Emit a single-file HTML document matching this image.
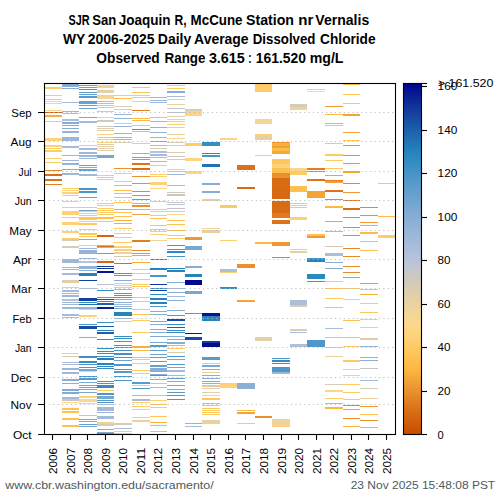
<!DOCTYPE html>
<html><head><meta charset="utf-8">
<style>
html,body{margin:0;padding:0;background:#fff;}
body{width:500px;height:500px;overflow:hidden;}
svg{display:block;font-family:"Liberation Sans",sans-serif;}
</style></head><body>
<svg width="500" height="500" viewBox="0 0 500 500">
<rect width="500" height="500" fill="#fff"/>
<g font-weight="bold" font-size="14.4" fill="#000">
<text x="68.50" y="24.80" textLength="21.10" lengthAdjust="spacingAndGlyphs">SJR</text>
<text x="92.30" y="24.80" textLength="24.10" lengthAdjust="spacingAndGlyphs">San</text>
<text x="118.80" y="24.80" textLength="51.80" lengthAdjust="spacingAndGlyphs">Joaquin</text>
<text x="174.60" y="24.80" textLength="12.10" lengthAdjust="spacingAndGlyphs">R,</text>
<text x="190.60" y="24.80" textLength="51.90" lengthAdjust="spacingAndGlyphs">McCune</text>
<text x="246.00" y="24.80" textLength="47.90" lengthAdjust="spacingAndGlyphs">Station</text>
<text x="298.20" y="24.80" textLength="15.10" lengthAdjust="spacingAndGlyphs">nr</text>
<text x="315.30" y="24.80" textLength="53.90" lengthAdjust="spacingAndGlyphs">Vernalis</text>
<text x="63.00" y="43.90" textLength="22.30" lengthAdjust="spacingAndGlyphs">WY</text>
<text x="87.80" y="43.90" textLength="66.60" lengthAdjust="spacingAndGlyphs">2006-2025</text>
<text x="157.80" y="43.90" textLength="33.40" lengthAdjust="spacingAndGlyphs">Daily</text>
<text x="194.10" y="43.90" textLength="54.50" lengthAdjust="spacingAndGlyphs">Average</text>
<text x="252.80" y="43.90" textLength="62.60" lengthAdjust="spacingAndGlyphs">Dissolved</text>
<text x="320.10" y="43.90" textLength="55.50" lengthAdjust="spacingAndGlyphs">Chloride</text>
<text x="96.30" y="62.50" textLength="63.40" lengthAdjust="spacingAndGlyphs">Observed</text>
<text x="164.60" y="62.50" textLength="40.90" lengthAdjust="spacingAndGlyphs">Range</text>
<text x="208.90" y="62.50" textLength="35.90" lengthAdjust="spacingAndGlyphs">3.615</text>
<text x="248.30" y="62.50" textLength="3.30" lengthAdjust="spacingAndGlyphs">:</text>
<text x="255.80" y="62.50" textLength="50.10" lengthAdjust="spacingAndGlyphs">161.520</text>
<text x="309.70" y="62.50" textLength="33.80" lengthAdjust="spacingAndGlyphs">mg/L</text>
</g>
<g shape-rendering="crispEdges">
<rect x="45" y="87" width="17" height="2" fill="#feca62"/>
<rect x="45" y="95" width="17" height="1" fill="#fecd6a"/>
<rect x="45" y="99" width="17" height="1" fill="#fecd6a"/>
<rect x="45" y="101" width="17" height="1" fill="#fdd584"/>
<rect x="45" y="103" width="17" height="1" fill="#f4d596"/>
<rect x="45" y="110" width="17" height="1" fill="#f9d790"/>
<rect x="45" y="112" width="17" height="1" fill="#d05c0a"/>
<rect x="45" y="115" width="17" height="2" fill="#f8b03c"/>
<rect x="45" y="121" width="17" height="1" fill="#feca62"/>
<rect x="45" y="138" width="17" height="3" fill="#fed177"/>
<rect x="62" y="84" width="17" height="3" fill="#88add5"/>
<rect x="62" y="88" width="17" height="1" fill="#88add5"/>
<rect x="62" y="102" width="17" height="1" fill="#a5bbd9"/>
<rect x="62" y="111" width="17" height="1" fill="#9cb6d8"/>
<rect x="62" y="113" width="17" height="1" fill="#aabdda"/>
<rect x="62" y="119" width="17" height="2" fill="#adbeda"/>
<rect x="62" y="122" width="17" height="2" fill="#88add5"/>
<rect x="62" y="125" width="17" height="1" fill="#82abd4"/>
<rect x="62" y="128" width="17" height="1" fill="#88add5"/>
<rect x="62" y="131" width="17" height="2" fill="#94b3d7"/>
<rect x="62" y="137" width="17" height="4" fill="#9cb6d8"/>
<rect x="79" y="85" width="18" height="1" fill="#68a1ce"/>
<rect x="79" y="87" width="18" height="1" fill="#68a1ce"/>
<rect x="79" y="89" width="18" height="1" fill="#4092c4"/>
<rect x="79" y="92" width="18" height="1" fill="#629fcc"/>
<rect x="79" y="94" width="18" height="1" fill="#68a1ce"/>
<rect x="79" y="96" width="18" height="2" fill="#589bca"/>
<rect x="79" y="101" width="18" height="3" fill="#68a1ce"/>
<rect x="79" y="105" width="18" height="1" fill="#68a1ce"/>
<rect x="79" y="108" width="18" height="1" fill="#6ea3cf"/>
<rect x="79" y="117" width="18" height="1" fill="#78a7d1"/>
<rect x="79" y="121" width="18" height="2" fill="#a5bbd9"/>
<rect x="97" y="85" width="17" height="3" fill="#eed39c"/>
<rect x="97" y="90" width="17" height="3" fill="#e5d0a5"/>
<rect x="97" y="95" width="17" height="1" fill="#fed177"/>
<rect x="97" y="96" width="17" height="3" fill="#f4d596"/>
<rect x="97" y="101" width="17" height="1" fill="#aabdda"/>
<rect x="97" y="103" width="17" height="1" fill="#adbeda"/>
<rect x="97" y="105" width="17" height="1" fill="#c6c7ca"/>
<rect x="97" y="107" width="17" height="1" fill="#d2cab9"/>
<rect x="97" y="111" width="17" height="1" fill="#d2cab9"/>
<rect x="97" y="117" width="17" height="1" fill="#fed177"/>
<rect x="97" y="120" width="17" height="2" fill="#d2cab9"/>
<rect x="97" y="126" width="17" height="1" fill="#cdc9c0"/>
<rect x="97" y="128" width="17" height="1" fill="#deceac"/>
<rect x="97" y="130" width="17" height="1" fill="#deceac"/>
<rect x="97" y="134" width="17" height="1" fill="#fed177"/>
<rect x="97" y="137" width="17" height="1" fill="#d7ccb4"/>
<rect x="97" y="139" width="17" height="1" fill="#e5d0a5"/>
<rect x="97" y="142" width="17" height="1" fill="#fed177"/>
<rect x="114" y="95" width="18" height="1" fill="#feca62"/>
<rect x="114" y="98" width="18" height="1" fill="#fcbc47"/>
<rect x="114" y="106" width="18" height="1" fill="#d7ccb4"/>
<rect x="114" y="109" width="18" height="1" fill="#deceac"/>
<rect x="114" y="114" width="18" height="1" fill="#9cb6d8"/>
<rect x="114" y="118" width="18" height="1" fill="#94b3d7"/>
<rect x="114" y="123" width="18" height="1" fill="#d7ccb4"/>
<rect x="114" y="126" width="18" height="1" fill="#94b3d7"/>
<rect x="114" y="133" width="18" height="1" fill="#9cb6d8"/>
<rect x="114" y="137" width="18" height="1" fill="#9cb6d8"/>
<rect x="114" y="139" width="18" height="1" fill="#9cb6d8"/>
<rect x="114" y="142" width="18" height="1" fill="#deceac"/>
<rect x="132" y="83" width="18" height="1" fill="#fcb840"/>
<rect x="132" y="87" width="18" height="1" fill="#fec65b"/>
<rect x="132" y="92" width="18" height="1" fill="#fdc354"/>
<rect x="132" y="95" width="18" height="1" fill="#feca62"/>
<rect x="132" y="97" width="18" height="1" fill="#fec65b"/>
<rect x="132" y="101" width="18" height="1" fill="#fed177"/>
<rect x="132" y="110" width="18" height="1" fill="#e17e20"/>
<rect x="132" y="118" width="18" height="1" fill="#fcbc47"/>
<rect x="132" y="120" width="18" height="1" fill="#fcb840"/>
<rect x="132" y="125" width="18" height="1" fill="#fdc151"/>
<rect x="132" y="129" width="18" height="1" fill="#d86c14"/>
<rect x="132" y="131" width="18" height="1" fill="#fcbc47"/>
<rect x="150" y="97" width="17" height="1" fill="#9cb6d8"/>
<rect x="150" y="100" width="17" height="1" fill="#94b3d7"/>
<rect x="150" y="102" width="17" height="1" fill="#9cb6d8"/>
<rect x="150" y="117" width="17" height="1" fill="#b4c2db"/>
<rect x="150" y="121" width="17" height="1" fill="#a0b8d8"/>
<rect x="150" y="127" width="17" height="1" fill="#94b3d7"/>
<rect x="150" y="132" width="17" height="1" fill="#94b3d7"/>
<rect x="150" y="137" width="17" height="1" fill="#9cb6d8"/>
<rect x="150" y="141" width="17" height="1" fill="#78a7d1"/>
<rect x="167" y="85" width="18" height="1" fill="#feca62"/>
<rect x="167" y="88" width="18" height="1" fill="#feca62"/>
<rect x="167" y="91" width="18" height="2" fill="#88add5"/>
<rect x="167" y="96" width="18" height="1" fill="#a5bbd9"/>
<rect x="167" y="99" width="18" height="1" fill="#e5d0a5"/>
<rect x="167" y="104" width="18" height="1" fill="#ead2a0"/>
<rect x="167" y="108" width="18" height="1" fill="#c6c7ca"/>
<rect x="167" y="112" width="18" height="1" fill="#b4c2db"/>
<rect x="167" y="116" width="18" height="1" fill="#e5d0a5"/>
<rect x="167" y="119" width="18" height="1" fill="#fed177"/>
<rect x="167" y="121" width="18" height="1" fill="#ead2a0"/>
<rect x="167" y="124" width="18" height="1" fill="#fed177"/>
<rect x="167" y="127" width="18" height="1" fill="#ead2a0"/>
<rect x="167" y="134" width="18" height="1" fill="#ead2a0"/>
<rect x="167" y="138" width="18" height="1" fill="#f4d596"/>
<rect x="167" y="142" width="18" height="1" fill="#e5d0a5"/>
<rect x="185" y="109" width="17" height="2" fill="#d7ccb4"/>
<rect x="185" y="111" width="17" height="5" fill="#fdd584"/>
<rect x="202" y="142" width="18" height="1" fill="#348ec2"/>
<rect x="220" y="138" width="17" height="2" fill="#fdd584"/>
<rect x="255" y="84" width="17" height="8" fill="#fecd6a"/>
<rect x="255" y="119" width="17" height="5" fill="#f4d596"/>
<rect x="255" y="134" width="17" height="2" fill="#fed177"/>
<rect x="255" y="136" width="17" height="4" fill="#e5d0a5"/>
<rect x="272" y="142" width="18" height="1" fill="#e17e20"/>
<rect x="290" y="104" width="17" height="3" fill="#d7ccb4"/>
<rect x="290" y="107" width="17" height="3" fill="#eed39c"/>
<rect x="307" y="89" width="18" height="1" fill="#fecd6a"/>
<rect x="307" y="91" width="18" height="1" fill="#fdd88c"/>
<rect x="325" y="106" width="18" height="1" fill="#ee9931"/>
<rect x="325" y="114" width="18" height="1" fill="#fcbc47"/>
<rect x="325" y="123" width="18" height="1" fill="#f8b03c"/>
<rect x="325" y="125" width="18" height="1" fill="#fdc151"/>
<rect x="343" y="84" width="17" height="1" fill="#fdc151"/>
<rect x="343" y="94" width="17" height="1" fill="#fec65b"/>
<rect x="343" y="103" width="17" height="1" fill="#fec65b"/>
<rect x="343" y="114" width="17" height="2" fill="#f3a436"/>
<rect x="343" y="132" width="17" height="1" fill="#f3a436"/>
<rect x="343" y="140" width="17" height="1" fill="#fdc151"/>
<rect x="45" y="145" width="17" height="2" fill="#fed177"/>
<rect x="45" y="148" width="17" height="1" fill="#fecd6a"/>
<rect x="45" y="150" width="17" height="2" fill="#fecd6a"/>
<rect x="45" y="158" width="17" height="1" fill="#fed177"/>
<rect x="45" y="162" width="17" height="1" fill="#feca62"/>
<rect x="45" y="170" width="17" height="1" fill="#e68a28"/>
<rect x="45" y="174" width="17" height="2" fill="#d86c14"/>
<rect x="45" y="179" width="17" height="2" fill="#dc7319"/>
<rect x="45" y="184" width="17" height="1" fill="#e17e20"/>
<rect x="62" y="146" width="17" height="2" fill="#a5bbd9"/>
<rect x="62" y="155" width="17" height="1" fill="#a0b8d8"/>
<rect x="62" y="160" width="17" height="1" fill="#9cb6d8"/>
<rect x="62" y="163" width="17" height="2" fill="#94b3d7"/>
<rect x="62" y="169" width="17" height="1" fill="#88add5"/>
<rect x="62" y="173" width="17" height="2" fill="#9cb6d8"/>
<rect x="62" y="188" width="17" height="1" fill="#fecd6a"/>
<rect x="62" y="190" width="17" height="1" fill="#fed177"/>
<rect x="62" y="192" width="17" height="2" fill="#fed177"/>
<rect x="62" y="195" width="17" height="1" fill="#fed177"/>
<rect x="62" y="201" width="17" height="1" fill="#fed177"/>
<rect x="79" y="145" width="18" height="1" fill="#feca62"/>
<rect x="79" y="148" width="18" height="2" fill="#a5bbd9"/>
<rect x="79" y="152" width="18" height="2" fill="#a0b8d8"/>
<rect x="79" y="155" width="18" height="2" fill="#a0b8d8"/>
<rect x="79" y="158" width="18" height="1" fill="#a0b8d8"/>
<rect x="79" y="165" width="18" height="1" fill="#68a1ce"/>
<rect x="79" y="167" width="18" height="1" fill="#88add5"/>
<rect x="79" y="169" width="18" height="2" fill="#68a1ce"/>
<rect x="79" y="174" width="18" height="2" fill="#a0b8d8"/>
<rect x="79" y="188" width="18" height="2" fill="#4895c6"/>
<rect x="79" y="191" width="18" height="2" fill="#4895c6"/>
<rect x="79" y="197" width="18" height="1" fill="#68a1ce"/>
<rect x="97" y="144" width="17" height="1" fill="#d7ccb4"/>
<rect x="97" y="146" width="17" height="1" fill="#e5d0a5"/>
<rect x="97" y="148" width="17" height="1" fill="#e5d0a5"/>
<rect x="97" y="150" width="17" height="1" fill="#deceac"/>
<rect x="97" y="155" width="17" height="3" fill="#78a7d1"/>
<rect x="97" y="175" width="17" height="1" fill="#fecd6a"/>
<rect x="97" y="177" width="17" height="1" fill="#fec65b"/>
<rect x="97" y="179" width="17" height="1" fill="#d7ccb4"/>
<rect x="114" y="142" width="18" height="1" fill="#d7ccb4"/>
<rect x="114" y="168" width="18" height="1" fill="#ea912d"/>
<rect x="114" y="173" width="18" height="1" fill="#feca62"/>
<rect x="114" y="181" width="18" height="1" fill="#feca62"/>
<rect x="114" y="185" width="18" height="1" fill="#fcb840"/>
<rect x="114" y="190" width="18" height="1" fill="#fdc151"/>
<rect x="114" y="193" width="18" height="1" fill="#fcbc47"/>
<rect x="114" y="197" width="18" height="1" fill="#fdc151"/>
<rect x="132" y="143" width="18" height="1" fill="#feca62"/>
<rect x="132" y="153" width="18" height="1" fill="#f3a436"/>
<rect x="132" y="157" width="18" height="1" fill="#e68a28"/>
<rect x="132" y="159" width="18" height="1" fill="#e68a28"/>
<rect x="132" y="163" width="18" height="2" fill="#dc7319"/>
<rect x="132" y="168" width="18" height="2" fill="#d86c14"/>
<rect x="132" y="176" width="18" height="1" fill="#ea912d"/>
<rect x="132" y="183" width="18" height="1" fill="#ea912d"/>
<rect x="132" y="191" width="18" height="1" fill="#e68a28"/>
<rect x="132" y="195" width="18" height="1" fill="#e68a28"/>
<rect x="132" y="199" width="18" height="1" fill="#e17e20"/>
<rect x="150" y="145" width="17" height="1" fill="#aabdda"/>
<rect x="150" y="148" width="17" height="1" fill="#d7ccb4"/>
<rect x="150" y="151" width="17" height="2" fill="#b4c2db"/>
<rect x="150" y="154" width="17" height="2" fill="#a5bbd9"/>
<rect x="150" y="157" width="17" height="1" fill="#aabdda"/>
<rect x="150" y="161" width="17" height="1" fill="#a5bbd9"/>
<rect x="150" y="165" width="17" height="1" fill="#d7ccb4"/>
<rect x="150" y="174" width="17" height="1" fill="#fecd6a"/>
<rect x="150" y="176" width="17" height="1" fill="#fecd6a"/>
<rect x="150" y="182" width="17" height="3" fill="#fed177"/>
<rect x="150" y="188" width="17" height="1" fill="#fdd584"/>
<rect x="150" y="201" width="17" height="1" fill="#fecd6a"/>
<rect x="167" y="142" width="18" height="1" fill="#d7ccb4"/>
<rect x="167" y="145" width="18" height="1" fill="#e5d0a5"/>
<rect x="167" y="152" width="18" height="1" fill="#d7ccb4"/>
<rect x="167" y="156" width="18" height="1" fill="#d2cab9"/>
<rect x="167" y="159" width="18" height="1" fill="#d7ccb4"/>
<rect x="167" y="169" width="18" height="1" fill="#e5d0a5"/>
<rect x="167" y="171" width="18" height="1" fill="#b9c4dc"/>
<rect x="167" y="174" width="18" height="1" fill="#a5bbd9"/>
<rect x="167" y="185" width="18" height="1" fill="#a5bbd9"/>
<rect x="167" y="192" width="18" height="1" fill="#d2cab9"/>
<rect x="167" y="194" width="18" height="2" fill="#c6c7ca"/>
<rect x="185" y="143" width="17" height="3" fill="#fecd6a"/>
<rect x="185" y="158" width="17" height="3" fill="#fdd584"/>
<rect x="185" y="171" width="17" height="3" fill="#fdd584"/>
<rect x="202" y="142" width="18" height="4" fill="#348ec2"/>
<rect x="202" y="153" width="18" height="1" fill="#288ac0"/>
<rect x="202" y="155" width="18" height="2" fill="#4895c6"/>
<rect x="202" y="164" width="18" height="3" fill="#2172b4"/>
<rect x="202" y="183" width="18" height="2" fill="#88add5"/>
<rect x="202" y="191" width="18" height="2" fill="#88add5"/>
<rect x="202" y="199" width="18" height="2" fill="#e5d0a5"/>
<rect x="237" y="165" width="18" height="5" fill="#dc7319"/>
<rect x="237" y="187" width="18" height="2" fill="#d86c14"/>
<rect x="255" y="155" width="17" height="1" fill="#fecd6a"/>
<rect x="272" y="142" width="18" height="1" fill="#ee9931"/>
<rect x="272" y="143" width="18" height="3" fill="#f8b03c"/>
<rect x="272" y="146" width="18" height="2" fill="#f1a135"/>
<rect x="272" y="148" width="18" height="3" fill="#fcbc47"/>
<rect x="272" y="151" width="18" height="3" fill="#f5a838"/>
<rect x="272" y="159" width="18" height="5" fill="#fec65b"/>
<rect x="272" y="164" width="18" height="4" fill="#fdd27b"/>
<rect x="272" y="168" width="18" height="5" fill="#fdc151"/>
<rect x="272" y="173" width="18" height="5" fill="#ea912d"/>
<rect x="272" y="178" width="18" height="11" fill="#d86c14"/>
<rect x="272" y="189" width="18" height="10" fill="#d66912"/>
<rect x="272" y="201" width="18" height="1" fill="#e17e20"/>
<rect x="290" y="168" width="17" height="3" fill="#f9d790"/>
<rect x="290" y="171" width="17" height="4" fill="#fecd6a"/>
<rect x="290" y="186" width="17" height="6" fill="#fdc151"/>
<rect x="307" y="168" width="18" height="2" fill="#e17e20"/>
<rect x="307" y="171" width="18" height="1" fill="#e17e20"/>
<rect x="307" y="179" width="18" height="2" fill="#dc7319"/>
<rect x="307" y="191" width="18" height="7" fill="#f3a436"/>
<rect x="325" y="143" width="18" height="1" fill="#fec65b"/>
<rect x="325" y="154" width="18" height="2" fill="#feca62"/>
<rect x="325" y="160" width="18" height="1" fill="#feca62"/>
<rect x="325" y="168" width="18" height="1" fill="#fec65b"/>
<rect x="325" y="175" width="18" height="1" fill="#f3a436"/>
<rect x="325" y="180" width="18" height="1" fill="#e17e20"/>
<rect x="325" y="181" width="18" height="2" fill="#f1a135"/>
<rect x="325" y="190" width="18" height="2" fill="#dc7319"/>
<rect x="325" y="199" width="18" height="1" fill="#e68a28"/>
<rect x="343" y="145" width="17" height="1" fill="#ea912d"/>
<rect x="343" y="155" width="17" height="1" fill="#ea912d"/>
<rect x="343" y="163" width="17" height="1" fill="#ee9931"/>
<rect x="343" y="171" width="17" height="2" fill="#f3a436"/>
<rect x="343" y="183" width="17" height="1" fill="#e68a28"/>
<rect x="343" y="192" width="17" height="1" fill="#ee9931"/>
<rect x="343" y="200" width="17" height="1" fill="#e17e20"/>
<rect x="378" y="183" width="17" height="1" fill="#fec65b"/>
<rect x="62" y="201" width="17" height="1" fill="#fecd6a"/>
<rect x="62" y="207" width="17" height="1" fill="#fecd6a"/>
<rect x="62" y="211" width="17" height="4" fill="#fed177"/>
<rect x="62" y="217" width="17" height="1" fill="#fecd6a"/>
<rect x="62" y="222" width="17" height="3" fill="#fed177"/>
<rect x="62" y="231" width="17" height="2" fill="#fed177"/>
<rect x="62" y="238" width="17" height="1" fill="#fecd6a"/>
<rect x="62" y="239" width="17" height="2" fill="#d7ccb4"/>
<rect x="62" y="246" width="17" height="2" fill="#d7ccb4"/>
<rect x="62" y="259" width="17" height="1" fill="#88add5"/>
<rect x="79" y="207" width="18" height="1" fill="#d2cab9"/>
<rect x="79" y="210" width="18" height="1" fill="#78a7d1"/>
<rect x="79" y="211" width="18" height="1" fill="#feca62"/>
<rect x="79" y="213" width="18" height="1" fill="#fecd6a"/>
<rect x="79" y="215" width="18" height="1" fill="#feca62"/>
<rect x="79" y="217" width="18" height="3" fill="#fec65b"/>
<rect x="79" y="221" width="18" height="1" fill="#fecd6a"/>
<rect x="79" y="223" width="18" height="2" fill="#fec65b"/>
<rect x="79" y="229" width="18" height="1" fill="#feca62"/>
<rect x="79" y="233" width="18" height="2" fill="#fec65b"/>
<rect x="79" y="236" width="18" height="1" fill="#feca62"/>
<rect x="79" y="239" width="18" height="1" fill="#88add5"/>
<rect x="79" y="245" width="18" height="1" fill="#e5d0a5"/>
<rect x="79" y="248" width="18" height="1" fill="#a0b8d8"/>
<rect x="79" y="250" width="18" height="4" fill="#94b3d7"/>
<rect x="79" y="258" width="18" height="1" fill="#a0b8d8"/>
<rect x="97" y="203" width="17" height="1" fill="#feca62"/>
<rect x="97" y="205" width="17" height="1" fill="#feca62"/>
<rect x="97" y="208" width="17" height="1" fill="#fecd6a"/>
<rect x="97" y="210" width="17" height="1" fill="#feca62"/>
<rect x="97" y="212" width="17" height="1" fill="#fecd6a"/>
<rect x="97" y="214" width="17" height="1" fill="#feca62"/>
<rect x="97" y="217" width="17" height="2" fill="#fdc151"/>
<rect x="97" y="221" width="17" height="1" fill="#feca62"/>
<rect x="97" y="235" width="17" height="2" fill="#d56510"/>
<rect x="97" y="245" width="17" height="1" fill="#a0b8d8"/>
<rect x="97" y="246" width="17" height="1" fill="#dc7319"/>
<rect x="97" y="247" width="17" height="1" fill="#a0b8d8"/>
<rect x="97" y="253" width="17" height="1" fill="#68a1ce"/>
<rect x="114" y="202" width="18" height="1" fill="#fdbf4e"/>
<rect x="114" y="209" width="18" height="1" fill="#f5a838"/>
<rect x="114" y="212" width="18" height="1" fill="#fdc354"/>
<rect x="114" y="216" width="18" height="1" fill="#fdc354"/>
<rect x="114" y="220" width="18" height="1" fill="#f8b03c"/>
<rect x="114" y="223" width="18" height="1" fill="#f8b03c"/>
<rect x="114" y="228" width="18" height="1" fill="#feca62"/>
<rect x="114" y="233" width="18" height="1" fill="#feca62"/>
<rect x="114" y="237" width="18" height="1" fill="#feca62"/>
<rect x="114" y="242" width="18" height="1" fill="#feca62"/>
<rect x="114" y="246" width="18" height="2" fill="#fed177"/>
<rect x="114" y="249" width="18" height="2" fill="#fed177"/>
<rect x="114" y="252" width="18" height="2" fill="#ead2a0"/>
<rect x="114" y="256" width="18" height="1" fill="#d7ccb4"/>
<rect x="132" y="203" width="18" height="1" fill="#f8b03c"/>
<rect x="132" y="205" width="18" height="2" fill="#ea912d"/>
<rect x="132" y="209" width="18" height="1" fill="#f8b03c"/>
<rect x="132" y="214" width="18" height="1" fill="#f3a436"/>
<rect x="132" y="240" width="18" height="2" fill="#e17e20"/>
<rect x="132" y="250" width="18" height="1" fill="#ea912d"/>
<rect x="132" y="253" width="18" height="1" fill="#ea912d"/>
<rect x="132" y="255" width="18" height="1" fill="#f3a436"/>
<rect x="150" y="201" width="17" height="1" fill="#feca62"/>
<rect x="150" y="209" width="17" height="1" fill="#fecd6a"/>
<rect x="150" y="211" width="17" height="1" fill="#feca62"/>
<rect x="150" y="215" width="17" height="1" fill="#feca62"/>
<rect x="150" y="218" width="17" height="1" fill="#fdc151"/>
<rect x="150" y="225" width="17" height="1" fill="#fec65b"/>
<rect x="150" y="229" width="17" height="1" fill="#fdc151"/>
<rect x="150" y="231" width="17" height="1" fill="#feca62"/>
<rect x="150" y="234" width="17" height="1" fill="#fed177"/>
<rect x="150" y="240" width="17" height="1" fill="#eed39c"/>
<rect x="150" y="259" width="17" height="1" fill="#348ec2"/>
<rect x="167" y="202" width="18" height="1" fill="#c6c7ca"/>
<rect x="167" y="204" width="18" height="1" fill="#b9c4dc"/>
<rect x="167" y="208" width="18" height="1" fill="#c6c7ca"/>
<rect x="167" y="211" width="18" height="1" fill="#d7ccb4"/>
<rect x="167" y="214" width="18" height="1" fill="#f9d790"/>
<rect x="167" y="220" width="18" height="1" fill="#fdc151"/>
<rect x="167" y="224" width="18" height="1" fill="#fdc151"/>
<rect x="167" y="230" width="18" height="1" fill="#fcbc47"/>
<rect x="167" y="235" width="18" height="1" fill="#feca62"/>
<rect x="167" y="238" width="18" height="1" fill="#fecd6a"/>
<rect x="167" y="245" width="18" height="1" fill="#4e97c8"/>
<rect x="167" y="249" width="18" height="1" fill="#4895c6"/>
<rect x="167" y="251" width="18" height="2" fill="#288ac0"/>
<rect x="167" y="256" width="18" height="1" fill="#4895c6"/>
<rect x="185" y="237" width="17" height="3" fill="#ee9931"/>
<rect x="185" y="246" width="17" height="4" fill="#78a7d1"/>
<rect x="202" y="200" width="18" height="1" fill="#e5d0a5"/>
<rect x="202" y="228" width="18" height="1" fill="#eed39c"/>
<rect x="202" y="230" width="18" height="3" fill="#e5d0a5"/>
<rect x="220" y="205" width="17" height="3" fill="#feca62"/>
<rect x="220" y="240" width="17" height="1" fill="#fecd6a"/>
<rect x="255" y="242" width="17" height="2" fill="#fcb840"/>
<rect x="272" y="201" width="18" height="12" fill="#d86c14"/>
<rect x="272" y="213" width="18" height="5" fill="#df7b1e"/>
<rect x="272" y="220" width="18" height="4" fill="#dc7319"/>
<rect x="272" y="242" width="18" height="4" fill="#ee9931"/>
<rect x="272" y="257" width="18" height="1" fill="#e17e20"/>
<rect x="290" y="203" width="17" height="1" fill="#fec65b"/>
<rect x="290" y="205" width="17" height="1" fill="#feca62"/>
<rect x="290" y="207" width="17" height="1" fill="#fec65b"/>
<rect x="290" y="217" width="17" height="3" fill="#fed177"/>
<rect x="290" y="249" width="17" height="1" fill="#feca62"/>
<rect x="290" y="251" width="17" height="2" fill="#e5d0a5"/>
<rect x="307" y="234" width="18" height="2" fill="#fdc151"/>
<rect x="307" y="236" width="18" height="2" fill="#ee9931"/>
<rect x="307" y="258" width="18" height="2" fill="#4895c6"/>
<rect x="325" y="206" width="18" height="2" fill="#fcb840"/>
<rect x="325" y="221" width="18" height="1" fill="#f3a436"/>
<rect x="325" y="231" width="18" height="1" fill="#f8b03c"/>
<rect x="325" y="246" width="18" height="1" fill="#d2cab9"/>
<rect x="325" y="253" width="18" height="3" fill="#adbeda"/>
<rect x="343" y="200" width="17" height="1" fill="#dc7319"/>
<rect x="343" y="208" width="17" height="2" fill="#d86c14"/>
<rect x="343" y="217" width="17" height="1" fill="#e68a28"/>
<rect x="343" y="227" width="17" height="1" fill="#e68a28"/>
<rect x="343" y="235" width="17" height="1" fill="#e68a28"/>
<rect x="343" y="248" width="17" height="1" fill="#e68a28"/>
<rect x="343" y="256" width="17" height="1" fill="#e68a28"/>
<rect x="360" y="207" width="18" height="1" fill="#e68a28"/>
<rect x="360" y="215" width="18" height="1" fill="#ea912d"/>
<rect x="360" y="222" width="18" height="1" fill="#ee9931"/>
<rect x="360" y="225" width="18" height="1" fill="#f8b03c"/>
<rect x="360" y="232" width="18" height="2" fill="#fcbc47"/>
<rect x="360" y="241" width="18" height="1" fill="#fcbc47"/>
<rect x="360" y="250" width="18" height="1" fill="#fdc151"/>
<rect x="378" y="216" width="17" height="1" fill="#fcbc47"/>
<rect x="378" y="235" width="17" height="3" fill="#fecd6a"/>
<rect x="62" y="259" width="17" height="4" fill="#a0b8d8"/>
<rect x="62" y="267" width="17" height="1" fill="#a0b8d8"/>
<rect x="62" y="269" width="17" height="1" fill="#a0b8d8"/>
<rect x="62" y="273" width="17" height="2" fill="#a5bbd9"/>
<rect x="62" y="280" width="17" height="3" fill="#deceac"/>
<rect x="62" y="287" width="17" height="1" fill="#e5d0a5"/>
<rect x="62" y="290" width="17" height="2" fill="#a5bbd9"/>
<rect x="62" y="293" width="17" height="1" fill="#a0b8d8"/>
<rect x="62" y="295" width="17" height="2" fill="#a0b8d8"/>
<rect x="62" y="299" width="17" height="2" fill="#b4c2db"/>
<rect x="62" y="302" width="17" height="1" fill="#a0b8d8"/>
<rect x="62" y="304" width="17" height="1" fill="#a0b8d8"/>
<rect x="62" y="307" width="17" height="2" fill="#a0b8d8"/>
<rect x="62" y="314" width="17" height="2" fill="#a5bbd9"/>
<rect x="62" y="317" width="17" height="1" fill="#a0b8d8"/>
<rect x="79" y="261" width="18" height="2" fill="#b9c4dc"/>
<rect x="79" y="266" width="18" height="3" fill="#94b3d7"/>
<rect x="79" y="270" width="18" height="1" fill="#88add5"/>
<rect x="79" y="273" width="18" height="3" fill="#2683bd"/>
<rect x="79" y="280" width="18" height="1" fill="#143f9e"/>
<rect x="79" y="288" width="18" height="1" fill="#adbeda"/>
<rect x="79" y="298" width="18" height="3" fill="#143f9e"/>
<rect x="79" y="302" width="18" height="1" fill="#348ec2"/>
<rect x="79" y="304" width="18" height="1" fill="#2172b4"/>
<rect x="79" y="307" width="18" height="2" fill="#94b3d7"/>
<rect x="79" y="309" width="18" height="1" fill="#e5d0a5"/>
<rect x="79" y="315" width="18" height="2" fill="#fed177"/>
<rect x="97" y="261" width="17" height="2" fill="#d56510"/>
<rect x="97" y="266" width="17" height="1" fill="#12379b"/>
<rect x="97" y="268" width="17" height="1" fill="#12379b"/>
<rect x="97" y="271" width="17" height="2" fill="#061491"/>
<rect x="97" y="284" width="17" height="1" fill="#bec5d5"/>
<rect x="97" y="290" width="17" height="1" fill="#348ec2"/>
<rect x="97" y="297" width="17" height="1" fill="#589bca"/>
<rect x="97" y="299" width="17" height="1" fill="#174ca4"/>
<rect x="97" y="301" width="17" height="1" fill="#348ec2"/>
<rect x="97" y="303" width="17" height="2" fill="#1c60ac"/>
<rect x="97" y="307" width="17" height="2" fill="#0a2194"/>
<rect x="114" y="263" width="18" height="1" fill="#4895c6"/>
<rect x="114" y="273" width="18" height="1" fill="#4e97c8"/>
<rect x="114" y="275" width="18" height="1" fill="#589bca"/>
<rect x="114" y="280" width="18" height="1" fill="#88add5"/>
<rect x="114" y="283" width="18" height="1" fill="#e5d0a5"/>
<rect x="114" y="285" width="18" height="1" fill="#e5d0a5"/>
<rect x="114" y="287" width="18" height="1" fill="#deceac"/>
<rect x="114" y="289" width="18" height="1" fill="#a0b8d8"/>
<rect x="114" y="293" width="18" height="1" fill="#589bca"/>
<rect x="114" y="295" width="18" height="1" fill="#4e97c8"/>
<rect x="114" y="297" width="18" height="1" fill="#589bca"/>
<rect x="114" y="299" width="18" height="1" fill="#88add5"/>
<rect x="114" y="302" width="18" height="1" fill="#8dafd6"/>
<rect x="114" y="304" width="18" height="1" fill="#a5bbd9"/>
<rect x="114" y="306" width="18" height="1" fill="#8dafd6"/>
<rect x="114" y="308" width="18" height="1" fill="#78a7d1"/>
<rect x="114" y="312" width="18" height="4" fill="#2683bd"/>
<rect x="114" y="318" width="18" height="1" fill="#b4c2db"/>
<rect x="132" y="262" width="18" height="1" fill="#f8b03c"/>
<rect x="132" y="269" width="18" height="1" fill="#feca62"/>
<rect x="132" y="273" width="18" height="1" fill="#feca62"/>
<rect x="132" y="279" width="18" height="1" fill="#fec65b"/>
<rect x="132" y="284" width="18" height="1" fill="#feca62"/>
<rect x="132" y="286" width="18" height="1" fill="#feca62"/>
<rect x="132" y="297" width="18" height="1" fill="#fec65b"/>
<rect x="132" y="301" width="18" height="1" fill="#fec65b"/>
<rect x="132" y="309" width="18" height="1" fill="#fec65b"/>
<rect x="132" y="314" width="18" height="1" fill="#fec65b"/>
<rect x="150" y="259" width="17" height="1" fill="#288ac0"/>
<rect x="150" y="268" width="17" height="2" fill="#2683bd"/>
<rect x="150" y="275" width="17" height="2" fill="#4895c6"/>
<rect x="150" y="284" width="17" height="1" fill="#12379b"/>
<rect x="150" y="288" width="17" height="1" fill="#348ec2"/>
<rect x="150" y="290" width="17" height="1" fill="#143f9e"/>
<rect x="150" y="294" width="17" height="1" fill="#348ec2"/>
<rect x="150" y="298" width="17" height="2" fill="#2683bd"/>
<rect x="150" y="302" width="17" height="2" fill="#2683bd"/>
<rect x="150" y="306" width="17" height="1" fill="#4e97c8"/>
<rect x="150" y="311" width="17" height="1" fill="#88add5"/>
<rect x="150" y="314" width="17" height="1" fill="#88add5"/>
<rect x="167" y="268" width="18" height="1" fill="#2683bd"/>
<rect x="167" y="270" width="18" height="2" fill="#2683bd"/>
<rect x="167" y="282" width="18" height="1" fill="#88add5"/>
<rect x="167" y="288" width="18" height="1" fill="#a0b8d8"/>
<rect x="167" y="292" width="18" height="1" fill="#88add5"/>
<rect x="167" y="296" width="18" height="1" fill="#a5bbd9"/>
<rect x="167" y="300" width="18" height="1" fill="#88add5"/>
<rect x="167" y="310" width="18" height="1" fill="#88add5"/>
<rect x="167" y="315" width="18" height="1" fill="#589bca"/>
<rect x="185" y="266" width="17" height="2" fill="#88add5"/>
<rect x="185" y="274" width="17" height="3" fill="#2683bd"/>
<rect x="185" y="280" width="17" height="5" fill="#01078d"/>
<rect x="185" y="291" width="17" height="3" fill="#78a7d1"/>
<rect x="185" y="313" width="17" height="1" fill="#589bca"/>
<rect x="202" y="313" width="18" height="3" fill="#061491"/>
<rect x="202" y="316" width="18" height="3" fill="#2172b4"/>
<rect x="220" y="269" width="17" height="3" fill="#adbeda"/>
<rect x="220" y="272" width="17" height="1" fill="#fed177"/>
<rect x="220" y="287" width="17" height="2" fill="#288ac0"/>
<rect x="237" y="264" width="18" height="4" fill="#ea912d"/>
<rect x="237" y="300" width="18" height="2" fill="#f3a436"/>
<rect x="290" y="300" width="17" height="5" fill="#adbeda"/>
<rect x="290" y="305" width="17" height="2" fill="#d7ccb4"/>
<rect x="307" y="259" width="18" height="3" fill="#2683bd"/>
<rect x="307" y="274" width="18" height="5" fill="#288ac0"/>
<rect x="307" y="281" width="18" height="1" fill="#4895c6"/>
<rect x="325" y="262" width="18" height="1" fill="#88add5"/>
<rect x="325" y="268" width="18" height="1" fill="#88add5"/>
<rect x="325" y="281" width="18" height="1" fill="#feca62"/>
<rect x="325" y="288" width="18" height="1" fill="#fec65b"/>
<rect x="325" y="298" width="18" height="1" fill="#feca62"/>
<rect x="325" y="307" width="18" height="1" fill="#fdc151"/>
<rect x="343" y="266" width="17" height="1" fill="#e68a28"/>
<rect x="343" y="272" width="17" height="1" fill="#e68a28"/>
<rect x="343" y="277" width="17" height="1" fill="#ea912d"/>
<rect x="343" y="288" width="17" height="1" fill="#fec65b"/>
<rect x="343" y="299" width="17" height="1" fill="#fed177"/>
<rect x="360" y="283" width="18" height="1" fill="#ee9931"/>
<rect x="360" y="289" width="18" height="1" fill="#fdc151"/>
<rect x="360" y="294" width="18" height="1" fill="#f8b03c"/>
<rect x="360" y="303" width="18" height="1" fill="#feca62"/>
<rect x="360" y="312" width="18" height="1" fill="#fec65b"/>
<rect x="62" y="317" width="17" height="1" fill="#aabdda"/>
<rect x="62" y="353" width="17" height="1" fill="#e5d0a5"/>
<rect x="62" y="356" width="17" height="1" fill="#d7ccb4"/>
<rect x="62" y="362" width="17" height="1" fill="#aabdda"/>
<rect x="62" y="364" width="17" height="1" fill="#aabdda"/>
<rect x="62" y="368" width="17" height="2" fill="#9cb6d8"/>
<rect x="62" y="372" width="17" height="2" fill="#a0b8d8"/>
<rect x="79" y="316" width="18" height="1" fill="#fed177"/>
<rect x="79" y="324" width="18" height="1" fill="#4895c6"/>
<rect x="79" y="326" width="18" height="3" fill="#174ca4"/>
<rect x="79" y="337" width="18" height="1" fill="#8dafd6"/>
<rect x="79" y="356" width="18" height="2" fill="#4092c4"/>
<rect x="79" y="361" width="18" height="2" fill="#348ec2"/>
<rect x="79" y="364" width="18" height="1" fill="#4895c6"/>
<rect x="79" y="367" width="18" height="1" fill="#4e97c8"/>
<rect x="79" y="369" width="18" height="2" fill="#78a7d1"/>
<rect x="79" y="371" width="18" height="1" fill="#fed177"/>
<rect x="97" y="322" width="17" height="1" fill="#4092c4"/>
<rect x="97" y="326" width="17" height="1" fill="#1c60ac"/>
<rect x="97" y="330" width="17" height="1" fill="#2683bd"/>
<rect x="97" y="332" width="17" height="2" fill="#1c60ac"/>
<rect x="97" y="339" width="17" height="1" fill="#348ec2"/>
<rect x="97" y="348" width="17" height="1" fill="#288ac0"/>
<rect x="97" y="351" width="17" height="1" fill="#348ec2"/>
<rect x="97" y="353" width="17" height="1" fill="#348ec2"/>
<rect x="97" y="356" width="17" height="1" fill="#348ec2"/>
<rect x="97" y="358" width="17" height="2" fill="#247cb9"/>
<rect x="97" y="363" width="17" height="2" fill="#2683bd"/>
<rect x="97" y="366" width="17" height="1" fill="#288ac0"/>
<rect x="97" y="368" width="17" height="1" fill="#348ec2"/>
<rect x="114" y="318" width="18" height="1" fill="#94b3d7"/>
<rect x="114" y="321" width="18" height="1" fill="#deceac"/>
<rect x="114" y="336" width="18" height="1" fill="#348ec2"/>
<rect x="114" y="338" width="18" height="1" fill="#348ec2"/>
<rect x="114" y="341" width="18" height="1" fill="#4895c6"/>
<rect x="114" y="345" width="18" height="1" fill="#4895c6"/>
<rect x="114" y="347" width="18" height="1" fill="#4092c4"/>
<rect x="114" y="350" width="18" height="1" fill="#4895c6"/>
<rect x="114" y="353" width="18" height="2" fill="#4092c4"/>
<rect x="114" y="357" width="18" height="1" fill="#4e97c8"/>
<rect x="114" y="360" width="18" height="1" fill="#6ea3cf"/>
<rect x="114" y="364" width="18" height="2" fill="#4e97c8"/>
<rect x="114" y="369" width="18" height="1" fill="#4e97c8"/>
<rect x="114" y="371" width="18" height="2" fill="#589bca"/>
<rect x="132" y="320" width="18" height="1" fill="#feca62"/>
<rect x="132" y="332" width="18" height="1" fill="#fec65b"/>
<rect x="132" y="346" width="18" height="2" fill="#f8b03c"/>
<rect x="132" y="350" width="18" height="1" fill="#fcb840"/>
<rect x="132" y="357" width="18" height="1" fill="#fcbc47"/>
<rect x="132" y="359" width="18" height="1" fill="#fec65b"/>
<rect x="132" y="363" width="18" height="1" fill="#fecd6a"/>
<rect x="132" y="370" width="18" height="1" fill="#feca62"/>
<rect x="132" y="373" width="18" height="1" fill="#feca62"/>
<rect x="150" y="321" width="17" height="1" fill="#ea912d"/>
<rect x="150" y="324" width="17" height="1" fill="#88add5"/>
<rect x="150" y="329" width="17" height="1" fill="#88add5"/>
<rect x="150" y="332" width="17" height="1" fill="#82abd4"/>
<rect x="150" y="336" width="17" height="1" fill="#82abd4"/>
<rect x="150" y="342" width="17" height="1" fill="#78a7d1"/>
<rect x="150" y="345" width="17" height="2" fill="#589bca"/>
<rect x="150" y="350" width="17" height="1" fill="#629fcc"/>
<rect x="150" y="354" width="17" height="1" fill="#6ea3cf"/>
<rect x="150" y="357" width="17" height="1" fill="#629fcc"/>
<rect x="150" y="361" width="17" height="1" fill="#629fcc"/>
<rect x="150" y="365" width="17" height="2" fill="#68a1ce"/>
<rect x="150" y="368" width="17" height="4" fill="#88add5"/>
<rect x="150" y="374" width="17" height="2" fill="#88add5"/>
<rect x="167" y="319" width="18" height="2" fill="#174ca4"/>
<rect x="167" y="324" width="18" height="1" fill="#348ec2"/>
<rect x="167" y="327" width="18" height="1" fill="#1c60ac"/>
<rect x="167" y="330" width="18" height="1" fill="#348ec2"/>
<rect x="167" y="332" width="18" height="1" fill="#348ec2"/>
<rect x="167" y="336" width="18" height="1" fill="#88add5"/>
<rect x="167" y="339" width="18" height="1" fill="#82abd4"/>
<rect x="167" y="342" width="18" height="2" fill="#88add5"/>
<rect x="167" y="345" width="18" height="1" fill="#a5bbd9"/>
<rect x="167" y="348" width="18" height="1" fill="#fecd6a"/>
<rect x="167" y="352" width="18" height="1" fill="#d7ccb4"/>
<rect x="167" y="356" width="18" height="1" fill="#4e97c8"/>
<rect x="167" y="359" width="18" height="1" fill="#78a7d1"/>
<rect x="167" y="364" width="18" height="1" fill="#589bca"/>
<rect x="167" y="367" width="18" height="1" fill="#78a7d1"/>
<rect x="167" y="370" width="18" height="2" fill="#a5bbd9"/>
<rect x="167" y="375" width="18" height="1" fill="#94b3d7"/>
<rect x="185" y="333" width="17" height="1" fill="#061491"/>
<rect x="185" y="337" width="17" height="3" fill="#174ca4"/>
<rect x="202" y="316" width="18" height="5" fill="#2683bd"/>
<rect x="202" y="341" width="18" height="2" fill="#143f9e"/>
<rect x="202" y="343" width="18" height="4" fill="#020c8e"/>
<rect x="202" y="357" width="18" height="3" fill="#589bca"/>
<rect x="202" y="363" width="18" height="1" fill="#fecd6a"/>
<rect x="202" y="365" width="18" height="2" fill="#78a7d1"/>
<rect x="202" y="369" width="18" height="1" fill="#8dafd6"/>
<rect x="202" y="372" width="18" height="1" fill="#e5d0a5"/>
<rect x="202" y="375" width="18" height="1" fill="#88add5"/>
<rect x="255" y="337" width="17" height="4" fill="#e5d0a5"/>
<rect x="272" y="358" width="18" height="1" fill="#4e97c8"/>
<rect x="272" y="360" width="18" height="2" fill="#348ec2"/>
<rect x="272" y="363" width="18" height="1" fill="#4092c4"/>
<rect x="272" y="367" width="18" height="5" fill="#4e97c8"/>
<rect x="272" y="372" width="18" height="2" fill="#9cb6d8"/>
<rect x="290" y="329" width="17" height="2" fill="#d7ccb4"/>
<rect x="290" y="332" width="17" height="1" fill="#aabdda"/>
<rect x="290" y="344" width="17" height="3" fill="#afbfdb"/>
<rect x="307" y="340" width="18" height="7" fill="#4e97c8"/>
<rect x="325" y="328" width="18" height="1" fill="#aabdda"/>
<rect x="325" y="337" width="18" height="1" fill="#cdc9c0"/>
<rect x="325" y="347" width="18" height="1" fill="#fdc151"/>
<rect x="325" y="356" width="18" height="1" fill="#ead2a0"/>
<rect x="343" y="320" width="17" height="1" fill="#fdc151"/>
<rect x="343" y="337" width="17" height="1" fill="#fdc151"/>
<rect x="343" y="346" width="17" height="1" fill="#fecd6a"/>
<rect x="343" y="360" width="17" height="2" fill="#feca62"/>
<rect x="343" y="369" width="17" height="1" fill="#fecd6a"/>
<rect x="343" y="375" width="17" height="1" fill="#ead2a0"/>
<rect x="360" y="319" width="18" height="1" fill="#fecd6a"/>
<rect x="360" y="327" width="18" height="1" fill="#e5d0a5"/>
<rect x="360" y="338" width="18" height="2" fill="#dccdaf"/>
<rect x="360" y="346" width="18" height="1" fill="#94b3d7"/>
<rect x="360" y="357" width="18" height="1" fill="#94b3d7"/>
<rect x="360" y="360" width="18" height="1" fill="#8dafd6"/>
<rect x="360" y="368" width="18" height="1" fill="#c6c7ca"/>
<rect x="62" y="379" width="17" height="2" fill="#88add5"/>
<rect x="62" y="383" width="17" height="1" fill="#8dafd6"/>
<rect x="62" y="389" width="17" height="2" fill="#82abd4"/>
<rect x="62" y="392" width="17" height="2" fill="#82abd4"/>
<rect x="62" y="397" width="17" height="2" fill="#a5bbd9"/>
<rect x="62" y="399" width="17" height="2" fill="#c6c7ca"/>
<rect x="62" y="402" width="17" height="1" fill="#fdd584"/>
<rect x="62" y="408" width="17" height="2" fill="#fdc151"/>
<rect x="62" y="411" width="17" height="2" fill="#fdc151"/>
<rect x="62" y="418" width="17" height="2" fill="#fdc151"/>
<rect x="62" y="425" width="17" height="2" fill="#fdc151"/>
<rect x="79" y="376" width="18" height="1" fill="#4e97c8"/>
<rect x="79" y="378" width="18" height="2" fill="#589bca"/>
<rect x="79" y="382" width="18" height="1" fill="#78a7d1"/>
<rect x="79" y="385" width="18" height="1" fill="#78a7d1"/>
<rect x="79" y="387" width="18" height="1" fill="#78a7d1"/>
<rect x="79" y="389" width="18" height="1" fill="#78a7d1"/>
<rect x="79" y="392" width="18" height="1" fill="#78a7d1"/>
<rect x="79" y="396" width="18" height="2" fill="#fed177"/>
<rect x="79" y="399" width="18" height="3" fill="#f9d790"/>
<rect x="79" y="403" width="18" height="1" fill="#fed177"/>
<rect x="79" y="415" width="18" height="1" fill="#c6c7ca"/>
<rect x="79" y="419" width="18" height="1" fill="#78a7d1"/>
<rect x="79" y="421" width="18" height="1" fill="#78a7d1"/>
<rect x="79" y="424" width="18" height="1" fill="#68a1ce"/>
<rect x="79" y="426" width="18" height="1" fill="#78a7d1"/>
<rect x="97" y="381" width="17" height="1" fill="#4e97c8"/>
<rect x="97" y="383" width="17" height="1" fill="#4e97c8"/>
<rect x="97" y="385" width="17" height="3" fill="#348ec2"/>
<rect x="97" y="390" width="17" height="1" fill="#feca62"/>
<rect x="97" y="393" width="17" height="2" fill="#4e97c8"/>
<rect x="97" y="396" width="17" height="3" fill="#78a7d1"/>
<rect x="97" y="400" width="17" height="1" fill="#589bca"/>
<rect x="97" y="402" width="17" height="1" fill="#4e97c8"/>
<rect x="97" y="404" width="17" height="1" fill="#a5bbd9"/>
<rect x="97" y="407" width="17" height="4" fill="#a5bbd9"/>
<rect x="97" y="412" width="17" height="1" fill="#94b3d7"/>
<rect x="97" y="416" width="17" height="3" fill="#a5bbd9"/>
<rect x="97" y="422" width="17" height="2" fill="#eed39c"/>
<rect x="97" y="424" width="17" height="2" fill="#d7ccb4"/>
<rect x="97" y="429" width="17" height="1" fill="#88add5"/>
<rect x="97" y="432" width="17" height="1" fill="#88add5"/>
<rect x="97" y="433" width="17" height="1" fill="#4895c6"/>
<rect x="114" y="376" width="18" height="1" fill="#4e97c8"/>
<rect x="114" y="380" width="18" height="1" fill="#4e97c8"/>
<rect x="114" y="423" width="18" height="2" fill="#d7ccb4"/>
<rect x="114" y="428" width="18" height="1" fill="#aabdda"/>
<rect x="114" y="431" width="18" height="1" fill="#e5d0a5"/>
<rect x="114" y="433" width="18" height="1" fill="#fed177"/>
<rect x="132" y="382" width="18" height="2" fill="#589bca"/>
<rect x="132" y="385" width="18" height="1" fill="#feca62"/>
<rect x="132" y="388" width="18" height="1" fill="#4e97c8"/>
<rect x="132" y="395" width="18" height="1" fill="#a5bbd9"/>
<rect x="132" y="399" width="18" height="2" fill="#a5bbd9"/>
<rect x="132" y="402" width="18" height="1" fill="#fecd6a"/>
<rect x="132" y="406" width="18" height="1" fill="#feca62"/>
<rect x="132" y="409" width="18" height="1" fill="#feca62"/>
<rect x="132" y="417" width="18" height="1" fill="#fed177"/>
<rect x="132" y="420" width="18" height="2" fill="#ead2a0"/>
<rect x="150" y="375" width="17" height="1" fill="#4e97c8"/>
<rect x="150" y="379" width="17" height="1" fill="#88add5"/>
<rect x="150" y="383" width="17" height="1" fill="#c6c7ca"/>
<rect x="150" y="387" width="17" height="1" fill="#a5bbd9"/>
<rect x="150" y="395" width="17" height="1" fill="#c6c7ca"/>
<rect x="150" y="400" width="17" height="1" fill="#fed177"/>
<rect x="150" y="404" width="17" height="1" fill="#fdc151"/>
<rect x="150" y="407" width="17" height="1" fill="#feca62"/>
<rect x="150" y="416" width="17" height="1" fill="#fec65b"/>
<rect x="150" y="422" width="17" height="1" fill="#f8b03c"/>
<rect x="150" y="425" width="17" height="1" fill="#fcb840"/>
<rect x="150" y="431" width="17" height="1" fill="#fcbc47"/>
<rect x="167" y="375" width="18" height="1" fill="#a5bbd9"/>
<rect x="167" y="378" width="18" height="1" fill="#589bca"/>
<rect x="167" y="381" width="18" height="1" fill="#88add5"/>
<rect x="167" y="385" width="18" height="1" fill="#78a7d1"/>
<rect x="167" y="389" width="18" height="1" fill="#88add5"/>
<rect x="167" y="392" width="18" height="1" fill="#589bca"/>
<rect x="167" y="395" width="18" height="1" fill="#4e97c8"/>
<rect x="167" y="399" width="18" height="1" fill="#4e97c8"/>
<rect x="185" y="423" width="17" height="1" fill="#94b3d7"/>
<rect x="185" y="426" width="17" height="1" fill="#a5bbd9"/>
<rect x="202" y="375" width="18" height="1" fill="#88add5"/>
<rect x="202" y="378" width="18" height="1" fill="#82abd4"/>
<rect x="202" y="381" width="18" height="1" fill="#88add5"/>
<rect x="202" y="383" width="18" height="1" fill="#94b3d7"/>
<rect x="202" y="385" width="18" height="2" fill="#d7ccb4"/>
<rect x="202" y="388" width="18" height="1" fill="#e5d0a5"/>
<rect x="202" y="392" width="18" height="1" fill="#e5d0a5"/>
<rect x="202" y="395" width="18" height="1" fill="#fed177"/>
<rect x="202" y="398" width="18" height="2" fill="#fec65b"/>
<rect x="202" y="403" width="18" height="1" fill="#fcb840"/>
<rect x="202" y="405" width="18" height="1" fill="#fdc151"/>
<rect x="202" y="408" width="18" height="1" fill="#fec65b"/>
<rect x="202" y="410" width="18" height="1" fill="#feca62"/>
<rect x="202" y="412" width="18" height="1" fill="#fec65b"/>
<rect x="202" y="414" width="18" height="1" fill="#feca62"/>
<rect x="202" y="420" width="18" height="4" fill="#ead2a0"/>
<rect x="220" y="383" width="17" height="5" fill="#fed177"/>
<rect x="237" y="383" width="18" height="6" fill="#8dafd6"/>
<rect x="237" y="410" width="18" height="1" fill="#fcb840"/>
<rect x="237" y="412" width="18" height="2" fill="#f3a436"/>
<rect x="237" y="423" width="18" height="1" fill="#feca62"/>
<rect x="255" y="416" width="17" height="2" fill="#ea912d"/>
<rect x="272" y="419" width="18" height="7" fill="#eed39c"/>
<rect x="272" y="426" width="18" height="1" fill="#fed177"/>
<rect x="325" y="384" width="18" height="1" fill="#d7ccb4"/>
<rect x="325" y="390" width="18" height="2" fill="#fdd584"/>
<rect x="325" y="398" width="18" height="1" fill="#fecd6a"/>
<rect x="325" y="403" width="18" height="1" fill="#f8b03c"/>
<rect x="325" y="407" width="18" height="2" fill="#fcb840"/>
<rect x="343" y="375" width="17" height="1" fill="#ead2a0"/>
<rect x="343" y="384" width="17" height="1" fill="#feca62"/>
<rect x="343" y="392" width="17" height="1" fill="#feca62"/>
<rect x="343" y="399" width="17" height="1" fill="#fec65b"/>
<rect x="343" y="405" width="17" height="1" fill="#e68a28"/>
<rect x="343" y="409" width="17" height="1" fill="#f3a436"/>
<rect x="343" y="418" width="17" height="1" fill="#e68a28"/>
<rect x="343" y="426" width="17" height="1" fill="#fcb840"/>
<rect x="360" y="380" width="18" height="1" fill="#a5bbd9"/>
<rect x="360" y="388" width="18" height="1" fill="#d7ccb4"/>
<rect x="360" y="398" width="18" height="1" fill="#ead2a0"/>
<rect x="360" y="406" width="18" height="1" fill="#ee9931"/>
<rect x="360" y="414" width="18" height="1" fill="#fdc151"/>
<rect x="360" y="420" width="18" height="1" fill="#ea912d"/>
<rect x="360" y="427" width="18" height="1" fill="#f8b03c"/>
</g>
<g stroke="#bababa" stroke-width="1" stroke-dasharray="1.1,3.3">
<line x1="48.95" y1="404.5" x2="395" y2="404.5"/>
<line x1="48.95" y1="377.5" x2="395" y2="377.5"/>
<line x1="48.95" y1="347.5" x2="395" y2="347.5"/>
<line x1="48.95" y1="318.5" x2="395" y2="318.5"/>
<line x1="48.95" y1="288.5" x2="395" y2="288.5"/>
<line x1="48.95" y1="259.5" x2="395" y2="259.5"/>
<line x1="48.95" y1="230.5" x2="395" y2="230.5"/>
<line x1="48.95" y1="200.5" x2="395" y2="200.5"/>
<line x1="48.95" y1="171.5" x2="395" y2="171.5"/>
<line x1="48.95" y1="141.5" x2="395" y2="141.5"/>
<line x1="48.95" y1="112.5" x2="395" y2="112.5"/>
</g>
<rect x="44.5" y="83.5" width="351" height="351" fill="none" stroke="#000" stroke-width="1.1"/>
<g stroke="#000" stroke-width="1.1" stroke-linecap="round">
<line x1="38.5" y1="434.5" x2="44.5" y2="434.5"/>
<line x1="38.5" y1="404.5" x2="44.5" y2="404.5"/>
<line x1="38.5" y1="377.5" x2="44.5" y2="377.5"/>
<line x1="38.5" y1="347.5" x2="44.5" y2="347.5"/>
<line x1="38.5" y1="318.5" x2="44.5" y2="318.5"/>
<line x1="38.5" y1="288.5" x2="44.5" y2="288.5"/>
<line x1="38.5" y1="259.5" x2="44.5" y2="259.5"/>
<line x1="38.5" y1="230.5" x2="44.5" y2="230.5"/>
<line x1="38.5" y1="200.5" x2="44.5" y2="200.5"/>
<line x1="38.5" y1="171.5" x2="44.5" y2="171.5"/>
<line x1="38.5" y1="141.5" x2="44.5" y2="141.5"/>
<line x1="38.5" y1="112.5" x2="44.5" y2="112.5"/>
<line x1="52.5" y1="434.5" x2="52.5" y2="439.5"/>
<line x1="70.5" y1="434.5" x2="70.5" y2="439.5"/>
<line x1="87.5" y1="434.5" x2="87.5" y2="439.5"/>
<line x1="105.5" y1="434.5" x2="105.5" y2="439.5"/>
<line x1="122.5" y1="434.5" x2="122.5" y2="439.5"/>
<line x1="140.5" y1="434.5" x2="140.5" y2="439.5"/>
<line x1="157.5" y1="434.5" x2="157.5" y2="439.5"/>
<line x1="175.5" y1="434.5" x2="175.5" y2="439.5"/>
<line x1="193.5" y1="434.5" x2="193.5" y2="439.5"/>
<line x1="210.5" y1="434.5" x2="210.5" y2="439.5"/>
<line x1="228.5" y1="434.5" x2="228.5" y2="439.5"/>
<line x1="245.5" y1="434.5" x2="245.5" y2="439.5"/>
<line x1="263.5" y1="434.5" x2="263.5" y2="439.5"/>
<line x1="281.5" y1="434.5" x2="281.5" y2="439.5"/>
<line x1="298.5" y1="434.5" x2="298.5" y2="439.5"/>
<line x1="316.5" y1="434.5" x2="316.5" y2="439.5"/>
<line x1="333.5" y1="434.5" x2="333.5" y2="439.5"/>
<line x1="351.5" y1="434.5" x2="351.5" y2="439.5"/>
<line x1="368.5" y1="434.5" x2="368.5" y2="439.5"/>
<line x1="386.5" y1="434.5" x2="386.5" y2="439.5"/>
</g>
<g font-size="10.7" fill="#000">
<text x="31.6" y="438.60" text-anchor="end" textLength="18.62" lengthAdjust="spacingAndGlyphs">Oct</text>
<text x="31.6" y="408.60" text-anchor="end" textLength="21.00" lengthAdjust="spacingAndGlyphs">Nov</text>
<text x="31.6" y="381.60" text-anchor="end" textLength="20.82" lengthAdjust="spacingAndGlyphs">Dec</text>
<text x="31.6" y="351.60" text-anchor="end" textLength="16.62" lengthAdjust="spacingAndGlyphs">Jan</text>
<text x="31.6" y="322.60" text-anchor="end" textLength="19.07" lengthAdjust="spacingAndGlyphs">Feb</text>
<text x="31.6" y="292.60" text-anchor="end" textLength="20.29" lengthAdjust="spacingAndGlyphs">Mar</text>
<text x="31.6" y="263.60" text-anchor="end" textLength="18.64" lengthAdjust="spacingAndGlyphs">Apr</text>
<text x="31.6" y="234.60" text-anchor="end" textLength="22.23" lengthAdjust="spacingAndGlyphs">May</text>
<text x="31.6" y="204.60" text-anchor="end" textLength="16.84" lengthAdjust="spacingAndGlyphs">Jun</text>
<text x="31.6" y="175.60" text-anchor="end" textLength="13.04" lengthAdjust="spacingAndGlyphs">Jul</text>
<text x="31.6" y="145.60" text-anchor="end" textLength="21.01" lengthAdjust="spacingAndGlyphs">Aug</text>
<text x="31.6" y="116.60" text-anchor="end" textLength="20.29" lengthAdjust="spacingAndGlyphs">Sep</text>
<text transform="translate(56.50,447.8) rotate(-90)" text-anchor="end" textLength="26.32" lengthAdjust="spacingAndGlyphs">2006</text>
<text transform="translate(74.50,447.8) rotate(-90)" text-anchor="end" textLength="26.32" lengthAdjust="spacingAndGlyphs">2007</text>
<text transform="translate(91.50,447.8) rotate(-90)" text-anchor="end" textLength="26.32" lengthAdjust="spacingAndGlyphs">2008</text>
<text transform="translate(109.50,447.8) rotate(-90)" text-anchor="end" textLength="26.32" lengthAdjust="spacingAndGlyphs">2009</text>
<text transform="translate(126.50,447.8) rotate(-90)" text-anchor="end" textLength="26.32" lengthAdjust="spacingAndGlyphs">2010</text>
<text transform="translate(144.50,447.8) rotate(-90)" text-anchor="end" textLength="26.32" lengthAdjust="spacingAndGlyphs">2011</text>
<text transform="translate(161.50,447.8) rotate(-90)" text-anchor="end" textLength="26.32" lengthAdjust="spacingAndGlyphs">2012</text>
<text transform="translate(179.50,447.8) rotate(-90)" text-anchor="end" textLength="26.32" lengthAdjust="spacingAndGlyphs">2013</text>
<text transform="translate(197.50,447.8) rotate(-90)" text-anchor="end" textLength="26.32" lengthAdjust="spacingAndGlyphs">2014</text>
<text transform="translate(214.50,447.8) rotate(-90)" text-anchor="end" textLength="26.32" lengthAdjust="spacingAndGlyphs">2015</text>
<text transform="translate(232.50,447.8) rotate(-90)" text-anchor="end" textLength="26.32" lengthAdjust="spacingAndGlyphs">2016</text>
<text transform="translate(249.50,447.8) rotate(-90)" text-anchor="end" textLength="26.32" lengthAdjust="spacingAndGlyphs">2017</text>
<text transform="translate(267.50,447.8) rotate(-90)" text-anchor="end" textLength="26.32" lengthAdjust="spacingAndGlyphs">2018</text>
<text transform="translate(285.50,447.8) rotate(-90)" text-anchor="end" textLength="26.32" lengthAdjust="spacingAndGlyphs">2019</text>
<text transform="translate(302.50,447.8) rotate(-90)" text-anchor="end" textLength="26.32" lengthAdjust="spacingAndGlyphs">2020</text>
<text transform="translate(320.50,447.8) rotate(-90)" text-anchor="end" textLength="26.32" lengthAdjust="spacingAndGlyphs">2021</text>
<text transform="translate(337.50,447.8) rotate(-90)" text-anchor="end" textLength="26.32" lengthAdjust="spacingAndGlyphs">2022</text>
<text transform="translate(355.50,447.8) rotate(-90)" text-anchor="end" textLength="26.32" lengthAdjust="spacingAndGlyphs">2023</text>
<text transform="translate(372.50,447.8) rotate(-90)" text-anchor="end" textLength="26.32" lengthAdjust="spacingAndGlyphs">2024</text>
<text transform="translate(390.50,447.8) rotate(-90)" text-anchor="end" textLength="26.32" lengthAdjust="spacingAndGlyphs">2025</text>
</g>
<g>
<defs><linearGradient id="cbg" x1="0" y1="1" x2="0" y2="0"><stop offset="0.0000" stop-color="#c84b00"/><stop offset="0.0312" stop-color="#d05c0a"/><stop offset="0.0625" stop-color="#d86c14"/><stop offset="0.0938" stop-color="#e17f21"/><stop offset="0.1250" stop-color="#ea922d"/><stop offset="0.1562" stop-color="#f3a537"/><stop offset="0.1875" stop-color="#fcb941"/><stop offset="0.2188" stop-color="#fdc252"/><stop offset="0.2500" stop-color="#fecb64"/><stop offset="0.2812" stop-color="#fdd279"/><stop offset="0.3125" stop-color="#fcd88d"/><stop offset="0.3438" stop-color="#f3d597"/><stop offset="0.3750" stop-color="#e9d2a1"/><stop offset="0.4062" stop-color="#ddceae"/><stop offset="0.4375" stop-color="#d0cabb"/><stop offset="0.4688" stop-color="#c4c7cd"/><stop offset="0.5000" stop-color="#b7c3dc"/><stop offset="0.5312" stop-color="#abbdda"/><stop offset="0.5625" stop-color="#9eb8d8"/><stop offset="0.5938" stop-color="#92b2d6"/><stop offset="0.6250" stop-color="#85acd4"/><stop offset="0.6562" stop-color="#75a6d1"/><stop offset="0.6875" stop-color="#65a0cd"/><stop offset="0.7188" stop-color="#559ac9"/><stop offset="0.7500" stop-color="#4393c5"/><stop offset="0.7812" stop-color="#2f8cc1"/><stop offset="0.8125" stop-color="#257fbb"/><stop offset="0.8438" stop-color="#206db2"/><stop offset="0.8750" stop-color="#1b5baa"/><stop offset="0.9062" stop-color="#1646a1"/><stop offset="0.9375" stop-color="#103199"/><stop offset="0.9688" stop-color="#081b93"/><stop offset="1.0000" stop-color="#00058c"/></linearGradient></defs>
<rect x="403.5" y="83.5" width="18" height="351" fill="url(#cbg)"/>
</g>
<rect x="403.5" y="83.5" width="18" height="351" fill="none" stroke="#000" stroke-width="1.1"/>
<g stroke="#000" stroke-width="1.1">
<line x1="421.5" y1="434.50" x2="427" y2="434.50"/>
<line x1="421.5" y1="391.50" x2="427" y2="391.50"/>
<line x1="421.5" y1="347.50" x2="427" y2="347.50"/>
<line x1="421.5" y1="304.50" x2="427" y2="304.50"/>
<line x1="421.5" y1="260.50" x2="427" y2="260.50"/>
<line x1="421.5" y1="217.50" x2="427" y2="217.50"/>
<line x1="421.5" y1="173.50" x2="427" y2="173.50"/>
<line x1="421.5" y1="130.50" x2="427" y2="130.50"/>
<line x1="421.5" y1="86.50" x2="427" y2="86.50"/>
<line x1="421.5" y1="83.5" x2="427" y2="83.5"/>
</g>
<g font-size="10.7" fill="#000">
<text x="437.6" y="439.00" textLength="6.18" lengthAdjust="spacingAndGlyphs">0</text>
<text x="437.6" y="395.30" textLength="12.96" lengthAdjust="spacingAndGlyphs">20</text>
<text x="437.6" y="351.30" textLength="12.96" lengthAdjust="spacingAndGlyphs">40</text>
<text x="437.6" y="308.30" textLength="12.96" lengthAdjust="spacingAndGlyphs">60</text>
<text x="437.6" y="264.30" textLength="12.96" lengthAdjust="spacingAndGlyphs">80</text>
<text x="437.6" y="221.30" textLength="19.74" lengthAdjust="spacingAndGlyphs">100</text>
<text x="437.6" y="177.30" textLength="19.74" lengthAdjust="spacingAndGlyphs">120</text>
<text x="437.6" y="134.30" textLength="19.74" lengthAdjust="spacingAndGlyphs">140</text>
<text x="437.6" y="90.30" textLength="19.74" lengthAdjust="spacingAndGlyphs">160</text>
<text x="437.9" y="86.8" textLength="55.4" lengthAdjust="spacingAndGlyphs">&gt; 161.520</text>
</g>
<text x="5.3" y="489.3" font-size="10.7" fill="#4d5a60" textLength="208.3" lengthAdjust="spacingAndGlyphs">www.cbr.washington.edu/sacramento/</text>
<text x="495.2" y="489.3" font-size="10.7" fill="#4d5a60" text-anchor="end" textLength="144.5" lengthAdjust="spacingAndGlyphs">23 Nov 2025 15:48:08 PST</text>
</svg>
</body></html>
